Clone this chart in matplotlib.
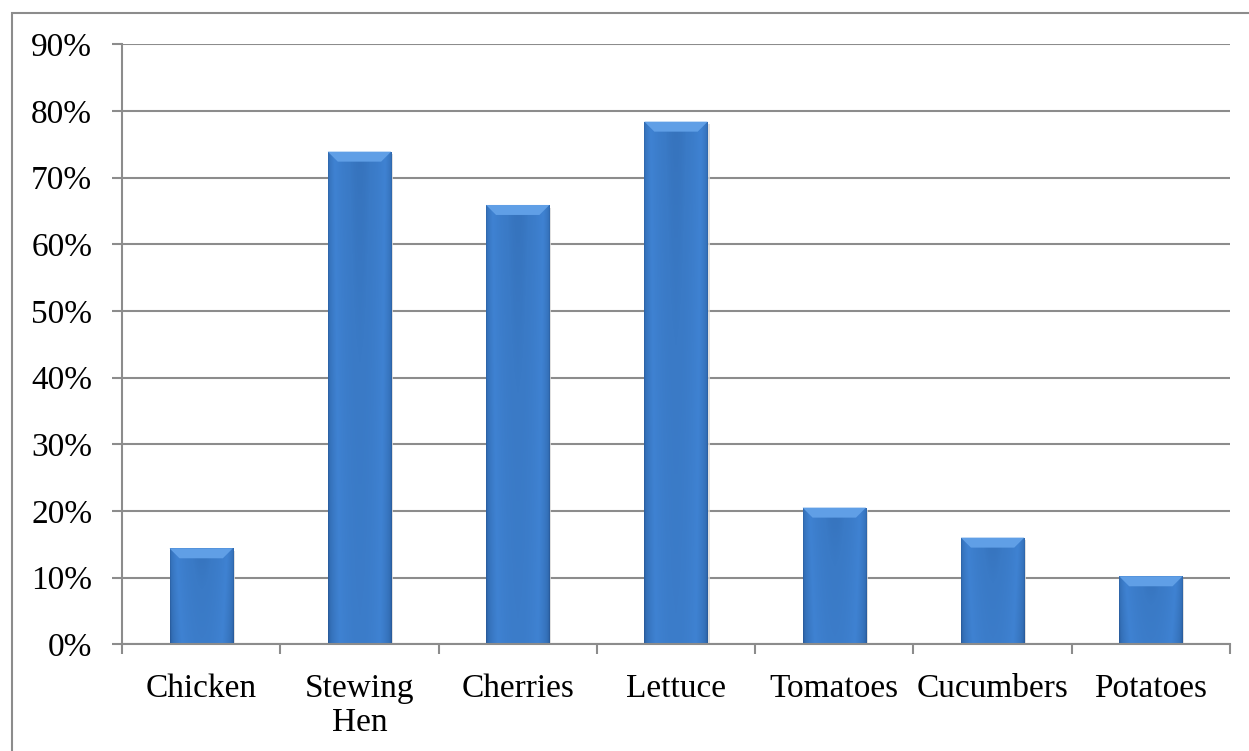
import numpy as np
import matplotlib.pyplot as plt
from matplotlib.patches import Rectangle, Polygon
from matplotlib.colors import LinearSegmentedColormap

categories = ["Chicken", "Stewing\nHen", "Cherries", "Lettuce", "Tomatoes", "Cucumbers", "Potatoes"]
shares = [0.144, 0.739, 0.659, 0.784, 0.205, 0.160, 0.102]
yticks = [0.0, 0.1, 0.2, 0.3, 0.4, 0.5, 0.6, 0.7, 0.8, 0.9]

grid_gray = "#8c8c8c"
plt.rcParams["font.family"] = ["Liberation Serif", "DejaVu Serif"]

fig = plt.figure(figsize=(12.49, 7.51), dpi=100)
ax = fig.add_axes([0.0977, 0.1421, 0.8871, 0.7989])

x = np.arange(len(categories))
width = 0.4
bars = ax.bar(x, shares, width=width, color="#3a75c0", zorder=3)

# shaded fill: darker toward the sides and the bottom, like a rounded column
blue = LinearSegmentedColormap.from_list("bar", ["#24528f", "#3470b8", "#3f82d2", "#3a7ac6", "#285a9c"])
h = np.linspace(0, 1, 64)
v = np.linspace(0, 1, 64)[:, None]
shade = np.clip(0.2 + 0.6 * np.sin(np.pi * h) ** 0.6 - 0.12 * v, 0, 1)

bevel_h = 0.015
bevel_w = 0.063
for b in bars:
    x0, w, top = b.get_x(), b.get_width(), b.get_height()
    im = ax.imshow(shade, cmap=blue, vmin=0, vmax=1, aspect="auto",
                   extent=(x0, x0 + w, 0, top), origin="upper", zorder=3.5,
                   interpolation="bilinear")
    im.set_clip_path(b)
    # bevelled top face
    ax.add_patch(Polygon([(x0, top), (x0 + w, top), (x0 + w - bevel_w, top - bevel_h),
                          (x0 + bevel_w, top - bevel_h)], closed=True,
                         facecolor="#609fe6", edgecolor="none", zorder=4))
    # soft shadow on the right edge
    ax.add_patch(Rectangle((x0 + w, 0), 0.012, top - 0.004, facecolor="#d9d9d9",
                           edgecolor="none", zorder=2.5, alpha=0.8))

ax.set_xlim(-0.5, len(categories) - 0.5)
ax.set_ylim(0, 0.9)
ax.set_yticks(yticks)
ax.set_yticklabels([f"{t:.0%}" for t in yticks])
ax.set_xticks(x)
ax.set_xticklabels(categories, linespacing=1.15)
ax.set_xticks(np.arange(len(categories) + 1) - 0.5, minor=True)

ax.yaxis.grid(True, color=grid_gray, linewidth=1.5, zorder=1)
ax.set_axisbelow(True)
for side in ("top", "right"):
    ax.spines[side].set_visible(False)
for side in ("left", "bottom"):
    ax.spines[side].set_color(grid_gray)
    ax.spines[side].set_linewidth(1.5)
    ax.spines[side].set_zorder(5)

ax.tick_params(axis="y", which="major", length=7.5, width=1.5, color=grid_gray,
               labelsize=24, pad=14)
ax.tick_params(axis="x", which="major", length=0, labelsize=24, pad=21)
ax.tick_params(axis="x", which="minor", length=7.5, width=1.5, color=grid_gray)

# chart area border
fig.add_artist(Rectangle((12 / 1249, -0.1), 1.2, 1 - 13 / 751 + 0.1,
                         transform=fig.transFigure, facecolor="none",
                         edgecolor=grid_gray, linewidth=1.5, clip_on=False))

fig.savefig("out.png", dpi=100)
